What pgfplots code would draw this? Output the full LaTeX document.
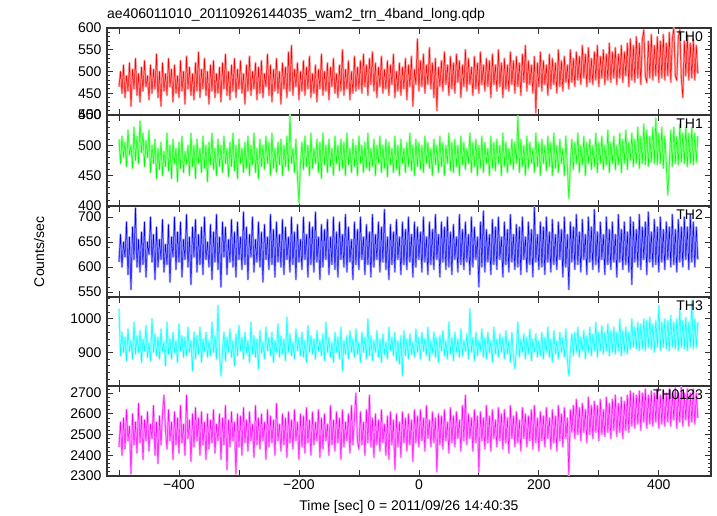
\documentclass[border=0pt]{standalone}
\usepackage{pgfplots}
\pgfplotsset{compat=1.18}
\usepackage{pgfplotstable}
\usepackage{fontspec}
\setmainfont{Liberation Sans}
\definecolor{qred}{rgb}{1,0,0}
\definecolor{qgreen}{rgb}{0,1,0}
\definecolor{qblue}{rgb}{0,0,1}
\definecolor{qcyan}{rgb}{0,1,1}
\definecolor{qmag}{rgb}{1,0,1}
\pgfplotstableread{
x a b c d e
-500 465 510 610 1030 2440
-497.5 500 470 665 890 2560
-495 450 515 600 960 2400
-492.5 515 480 650 900 2580
-490 440 505 620 945 2430
-487.5 490 465 690 875 2620
-485 455 525 585 970 2470
-482.5 520 485 660 905 2540
-480 420 500 555 935 2310
-477.5 505 462 680 880 2600
-475 460 530 615 990 2450
-472.5 530 475 718 895 2560
-470 445 515 600 950 2410
-467.5 495 470 655 900 2650
-465 430 540 590 965 2460
-462.5 510 488 670 870 2590
-460 455 520 605 940 2380
-457.5 525 465 690 905 2570
-455 465 508 580 980 2470
-452.5 490 480 650 885 2610
-450 435 525 625 930 2420
-447.5 515 455 700 875 2550
-445 450 500 610 1000 2480
-442.5 505 470 665 900 2640
-440 460 510 575 955 2400
-437.5 540 445 680 890 2560
-435 440 495 600 945 2360
-432.5 500 460 655 880 2590
-430 420 505 615 970 2450
-427.5 520 450 695 905 2600
-425 455 490 590 930 2690
-422.5 495 465 645 860 2520
-420 445 520 605 990 2430
-417.5 530 458 685 895 2620
-415 465 500 570 940 2470
-412.5 505 445 660 880 2560
-410 430 510 620 960 2380
-407.5 515 470 700 900 2610
-405 450 495 595 935 2450
-402.5 490 440 670 870 2580
-400 440 505 610 985 2410
-397.5 525 462 690 905 2640
-395 455 515 580 950 2460
-392.5 500 455 655 885 2550
-390 425 490 615 945 2400
-387.5 535 470 705 890 2690
-385 460 500 600 975 2480
-382.5 510 450 660 900 2570
-380 445 520 565 935 2370
-377.5 495 465 680 845 2600
-375 435 500 620 960 2440
-372.5 520 445 695 880 2630
-370 455 510 590 950 2470
-367.5 545 470 665 895 2580
-365 440 495 605 975 2400
-362.5 505 455 680 870 2610
-360 460 515 585 940 2450
-357.5 530 462 700 905 2560
-355 445 500 615 960 2380
-352.5 500 440 650 885 2600
-350 425 505 600 935 2430
-347.5 515 468 685 890 2570
-345 455 520 575 990 2460
-342.5 525 460 670 900 2620
-340 440 495 610 950 2410
-337.5 495 450 705 880 2550
-335 450 510 595 1040 2470
-332.5 510 465 660 895 2600
-330 430 500 560 830 2380
-327.5 520 455 690 905 2580
-325 460 515 620 960 2450
-322.5 540 470 680 875 2640
-320 445 495 585 945 2330
-317.5 500 448 655 900 2570
-315 435 505 610 970 2440
-312.5 515 465 695 885 2610
-310 455 520 600 935 2470
-307.5 530 458 670 860 2560
-305 440 500 580 955 2310
-302.5 505 445 690 890 2600
-300 460 510 615 980 2440
-297.5 525 470 660 905 2590
-295 450 495 595 945 2400
-292.5 495 455 710 880 2630
-290 425 505 605 960 2460
-287.5 515 462 680 900 2570
-285 455 515 575 935 2420
-282.5 535 450 665 870 2610
-280 445 500 620 990 2470
-277.5 500 468 700 895 2550
-275 460 520 590 950 2390
-272.5 520 455 655 885 2640
-270 435 495 610 940 2450
-267.5 510 445 690 850 2580
-265 450 510 600 965 2430
-262.5 525 465 670 900 2600
-260 440 500 570 930 2470
-257.5 495 460 685 880 2560
-255 465 515 615 975 2380
-252.5 540 470 660 905 2620
-250 445 505 595 945 2440
-247.5 515 450 705 890 2590
-245 430 520 605 960 2460
-242.5 505 462 675 870 2570
-240 455 495 580 935 2400
-237.5 530 455 690 900 2650
-235 450 505 610 985 2470
-232.5 500 468 665 885 2550
-230 425 510 600 950 2420
-227.5 520 450 695 895 2600
-225 460 500 585 940 2450
-222.5 510 465 680 875 2580
-220 440 515 615 1005 2390
-217.5 545 458 660 900 2610
-215 455 550 590 955 2460
-212.5 560 470 700 890 2570
-210 445 495 605 930 2430
-207.5 505 455 670 880 2620
-205 465 510 575 970 2470
-202.5 520 448 685 905 2560
-200 435 405 610 945 2380
-197.5 500 470 655 890 2600
-195 455 505 595 960 2440
-192.5 525 460 700 885 2590
-190 445 515 615 935 2410
-187.5 510 465 665 870 2630
-185 460 500 580 980 2460
-182.5 535 450 690 900 2570
-180 440 520 605 950 2400
-177.5 495 462 680 895 2610
-175 450 495 590 940 2450
-172.5 515 470 710 880 2560
-170 430 510 610 965 2470
-167.5 505 455 660 905 2620
-165 460 505 575 935 2390
-162.5 540 445 685 890 2580
-160 445 520 600 955 2430
-157.5 500 468 675 875 2600
-155 455 500 615 990 2470
-152.5 520 455 695 900 2550
-150 435 510 585 945 2400
-147.5 510 465 660 885 2640
-145 465 495 605 930 2450
-142.5 530 450 700 870 2570
-140 450 515 595 960 2420
-137.5 495 470 670 900 2610
-135 440 500 580 945 2460
-132.5 515 458 690 880 2580
-130 455 510 615 975 2380
-127.5 550 462 665 845 2620
-125 445 505 600 935 2440
-122.5 505 450 705 895 2560
-120 460 520 590 950 2470
-117.5 525 468 680 880 2600
-115 435 495 610 965 2410
-112.5 500 455 655 900 2640
-110 450 510 575 940 2450
-107.5 535 465 690 885 2580
-105 455 500 605 970 2700
-102.5 510 450 675 895 2470
-100 460 515 595 930 2430
-97.5 525 470 700 870 2610
-95 450 500 615 960 2450
-92.5 540 455 660 900 2560
-90 465 505 585 945 2400
-87.5 515 462 685 880 2620
-85 445 520 605 1000 2460
-82.5 530 458 670 890 2690
-80 470 495 580 950 2440
-77.5 545 465 705 875 2580
-75 455 510 600 935 2390
-72.5 520 450 665 900 2600
-70 440 500 615 965 2450
-67.5 510 470 690 885 2570
-65 465 515 590 940 2420
-62.5 535 455 680 870 2620
-60 450 500 610 955 2460
-57.5 505 462 715 895 2550
-55 460 510 595 930 2400
-52.5 525 448 660 880 2590
-50 445 505 575 975 2380
-47.5 515 468 685 905 2610
-45 470 495 605 945 2450
-42.5 540 455 670 890 2570
-40 440 515 590 960 2330
-37.5 500 460 695 875 2600
-35 455 500 615 935 2440
-32.5 520 450 660 865 2560
-30 445 510 585 950 2390
-27.5 510 470 690 830 2610
-25 460 495 605 965 2460
-22.5 530 455 675 890 2580
-20 435 505 595 940 2420
-17.5 515 465 700 880 2600
-15 465 520 610 955 2450
-12.5 535 458 665 895 2570
-10 420 500 580 930 2370
-7.5 505 450 690 885 2620
-5 470 510 600 970 2460
-2.5 575 465 680 900 2590
0 455 505 615 945 2440
2.5 525 460 670 880 2620
5 465 500 590 960 2470
7.5 540 455 700 905 2580
10 450 515 610 940 2420
12.5 515 470 660 890 2640
15 470 505 585 975 2480
17.5 555 462 690 875 2570
20 460 495 605 935 2440
22.5 520 450 675 900 2610
25 440 510 595 960 2460
27.5 530 468 705 885 2580
30 410 500 615 945 2320
32.5 510 455 665 870 2600
35 465 515 580 950 2450
37.5 525 465 690 905 2590
40 455 505 610 965 2430
42.5 545 450 680 890 2620
45 470 500 595 935 2470
47.5 515 470 700 880 2560
50 445 520 600 990 2410
52.5 535 458 670 895 2630
55 460 505 585 945 2460
57.5 520 455 685 875 2590
60 450 510 615 960 2440
62.5 540 465 660 900 2610
65 475 500 590 940 2480
67.5 525 450 705 885 2570
70 440 515 605 970 2420
72.5 515 468 675 890 2640
75 465 505 595 935 2470
77.5 550 460 690 905 2690
80 455 495 610 955 2450
82.5 530 470 665 880 2600
85 470 520 585 1030 2480
87.5 510 455 700 900 2580
90 445 505 600 945 2420
92.5 535 465 680 875 2620
95 460 510 615 960 2460
97.5 520 450 660 890 2590
100 450 500 560 935 2320
102.5 545 462 690 905 2610
105 470 515 600 970 2470
107.5 515 455 712 885 2580
110 455 505 590 945 2430
112.5 530 470 675 880 2640
115 465 495 610 960 2460
117.5 525 450 665 900 2590
120 440 515 585 935 2420
122.5 540 462 695 870 2620
125 470 505 605 975 2480
127.5 515 458 680 895 2570
130 455 510 595 940 2440
132.5 550 470 700 885 2630
135 465 500 615 955 2470
137.5 520 450 660 900 2600
140 440 520 580 945 2430
142.5 530 465 690 880 2620
145 460 505 605 965 2460
147.5 515 455 675 895 2580
150 455 495 590 935 2410
152.5 545 468 705 870 2640
155 470 510 610 960 2480
157.5 525 460 665 890 2590
160 450 505 595 850 2440
162.5 535 470 685 905 2610
165 465 548 600 990 2460
167.5 520 455 680 885 2570
170 445 510 585 940 2420
172.5 540 465 700 900 2630
175 475 500 615 955 2480
177.5 560 450 660 880 2600
180 455 515 590 945 2440
182.5 525 462 690 895 2590
185 470 505 605 970 2470
187.5 515 470 675 875 2620
190 450 495 580 940 2430
192.5 535 455 720 900 2640
195 405 520 610 955 2460
197.5 520 465 665 885 2580
200 465 505 595 935 2420
202.5 545 450 690 890 2610
205 455 510 600 960 2470
207.5 525 470 680 880 2590
210 470 500 585 945 2440
212.5 515 458 700 900 2630
215 445 515 610 975 2480
217.5 540 465 670 885 2580
220 460 505 590 940 2430
222.5 530 450 695 870 2620
225 470 520 605 965 2460
227.5 520 462 665 895 2590
230 450 500 595 935 2420
232.5 550 455 690 880 2640
235 465 510 615 960 2470
237.5 525 470 675 900 2600
240 455 495 580 945 2440
242.5 535 450 700 885 2630
245 475 515 600 970 2480
247.5 515 465 665 875 2580
250 460 412 555 830 2300
252.5 550 470 690 905 2620
255 475 510 610 955 2510
257.5 530 460 680 890 2640
260 465 505 595 960 2480
262.5 545 470 705 900 2670
265 480 520 605 975 2500
267.5 535 455 670 885 2630
270 470 500 590 945 2470
272.5 560 468 695 905 2650
275 485 515 615 965 2510
277.5 540 450 665 880 2620
280 465 505 585 950 2460
282.5 555 470 700 900 2680
285 475 510 610 975 2500
287.5 530 460 680 890 2640
290 470 500 595 955 2480
292.5 545 465 715 905 2660
295 480 520 605 990 2510
297.5 560 455 670 885 2640
300 465 505 590 960 2470
302.5 535 470 690 905 2670
305 485 515 615 980 2500
307.5 550 460 665 895 2620
310 470 500 585 960 2490
312.5 540 468 700 905 2680
315 480 525 605 985 2510
317.5 565 455 675 890 2650
320 475 505 595 965 2480
322.5 545 470 690 900 2670
325 485 515 610 975 2520
327.5 555 460 665 895 2690
330 470 500 580 960 2490
332.5 540 468 705 905 2650
335 485 520 610 1000 2510
337.5 560 455 675 890 2680
340 475 510 595 965 2480
342.5 545 470 690 900 2660
345 490 525 605 975 2520
347.5 565 460 670 895 2690
350 465 505 590 960 2510
352.5 575 475 700 910 2710
355 480 520 565 1000 2540
357.5 560 465 690 915 2700
360 475 510 610 975 2530
362.5 580 470 675 910 2690
365 485 530 600 990 2550
367.5 565 462 705 905 2710
370 470 515 595 985 2520
372.5 575 470 680 910 2700
375 595 535 615 1000 2560
377.5 490 468 690 905 2720
380 475 525 585 995 2530
382.5 570 465 710 915 2690
385 485 515 610 1005 2550
387.5 585 472 670 910 2710
390 480 530 600 985 2540
392.5 560 470 695 900 2700
395 490 545 605 995 2560
397.5 580 468 680 915 2720
400 475 520 590 1040 2530
402.5 570 470 700 905 2690
405 485 530 610 990 2550
407.5 585 462 675 915 2710
410 480 515 595 1000 2540
412.5 565 470 690 910 2700
415 490 418 615 995 2560
417.5 590 470 680 905 2720
420 475 525 600 1010 2540
422.5 575 465 705 915 2700
425 600 530 605 990 2570
427.5 490 470 675 910 2725
430 480 515 590 1000 2530
432.5 580 468 695 905 2700
435 595 535 610 1030 2560
437.5 485 472 680 915 2730
440 440 520 600 995 2540
442.5 570 470 700 910 2700
445 490 530 615 1005 2570
447.5 585 465 680 905 2720
450 480 520 595 990 2540
452.5 565 470 705 915 2700
455 485 530 610 1055 2560
457.5 575 468 690 910 2720
460 480 520 600 1000 2550
462.5 560 472 680 915 2700
465 495 515 615 990 2580
}\data
\pgfplotsset{
  panel/.style={
    scale only axis, width=604pt,
    xmin=-520, xmax=487,
    xtick={-500,-400,-300,-200,-100,0,100,200,300,400},
    xticklabels={},
    axis line style={line width=1.1pt, black!80},
    major tick length=6pt, minor tick length=3pt,
    every tick/.style={black!80, line width=0.8pt},
    tick align=inside, tick pos=both,
    /pgf/number format/assume math mode=true,
    /pgf/number format/set thousands separator={},
    yticklabel style={font=\fontsize{14}{16}\selectfont, xshift=-2pt},
    clip=true,
  },
  halo/.style={#1!38!white, line width=2.2pt, line join=round},
  main/.style={#1, line width=0.5pt},
}
\begin{document}
\begin{tikzpicture}[x=1pt,y=1pt]
\useasboundingbox (0,0) rectangle (717,516);
\node[anchor=base west, inner sep=0, font=\fontsize{14}{16}\selectfont] at (107,497) {ae406011010\_20110926144035\_wam2\_trn\_4band\_long.qdp};
\node[anchor=base, inner sep=0, font=\fontsize{14}{16}\selectfont] at (409,5) {Time [sec] 0 = 2011/09/26 14:40:35};
\node[rotate=90, inner sep=0, font=\fontsize{14}{16}\selectfont] at (39,264) {Counts/sec};

\begin{axis}[panel, at={(107pt,401pt)}, anchor=south west, height=87pt,
  ymin=400, ymax=600, ytick={400,450,...,600}, minor y tick num=4]
\addplot[halo=qred] table[x=x,y=a] {\data};
\addplot[main=qred] table[x=x,y=a] {\data};
\node[anchor=north east, inner sep=0, font=\fontsize{14}{16}\selectfont] at (rel axis cs:1,1) [xshift=-8pt,yshift=-4pt] {TH0};
\end{axis}

\begin{axis}[panel, at={(107pt,310pt)}, anchor=south west, height=91pt,
  ymin=400, ymax=550, ytick={400,450,...,550}, minor y tick num=4]
\addplot[halo=qgreen] table[x=x,y=b] {\data};
\addplot[main=qgreen] table[x=x,y=b] {\data};
\node[anchor=north east, inner sep=0, font=\fontsize{14}{16}\selectfont] at (rel axis cs:1,1) [xshift=-8pt,yshift=-4pt] {TH1};
\end{axis}

\begin{axis}[panel, at={(107pt,219pt)}, anchor=south west, height=91pt,
  ymin=540, ymax=722, ytick={550,600,...,700}, minor ytick={540,560,...,720}]
\addplot[halo=qblue] table[x=x,y=c] {\data};
\addplot[main=qblue] table[x=x,y=c] {\data};
\node[anchor=north east, inner sep=0, font=\fontsize{14}{16}\selectfont] at (rel axis cs:1,1) [xshift=-8pt,yshift=-4pt] {TH2};
\end{axis}

\begin{axis}[panel, at={(107pt,130pt)}, anchor=south west, height=89pt,
  ymin=800, ymax=1065, ytick={900,1000}, minor ytick={800,820,...,1060}]
\addplot[halo=qcyan] table[x=x,y=d] {\data};
\addplot[main=qcyan] table[x=x,y=d] {\data};
\node[anchor=north east, inner sep=0, font=\fontsize{14}{16}\selectfont] at (rel axis cs:1,1) [xshift=-8pt,yshift=-4pt] {TH3};
\end{axis}

\begin{axis}[panel, at={(107pt,40pt)}, anchor=south west, height=90pt,
  ymin=2300, ymax=2734, ytick={2300,2400,...,2700}, minor ytick={2300,2320,...,2720},
  xticklabels={,−400,,−200,,0,,200,,400},
  xticklabel style={font=\fontsize{14}{16}\selectfont}]
\addplot[halo=qmag] table[x=x,y=e] {\data};
\addplot[main=qmag] table[x=x,y=e] {\data};
\node[anchor=north east, inner sep=0, font=\fontsize{14}{16}\selectfont] at (rel axis cs:1,1) [xshift=-8pt,yshift=-4pt] {TH0123};
\end{axis}
\end{tikzpicture}
\end{document}
